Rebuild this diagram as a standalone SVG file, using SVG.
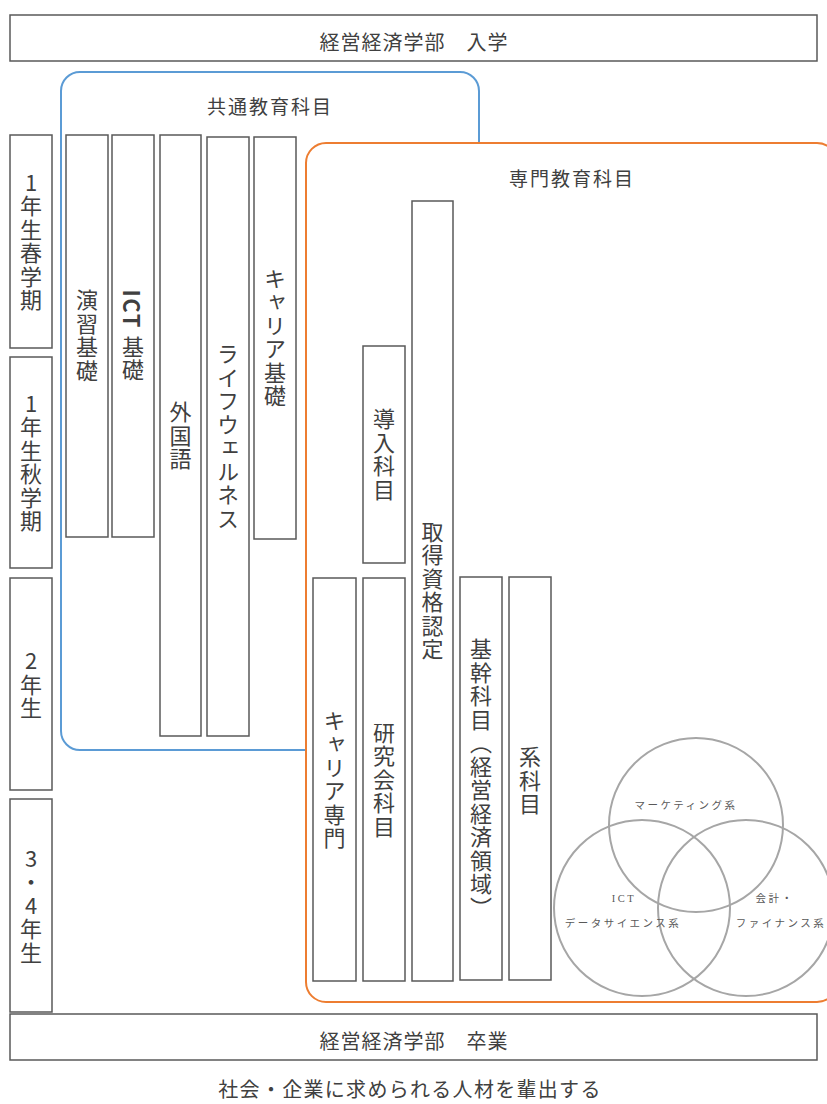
<svg xmlns="http://www.w3.org/2000/svg" width="827" height="1104" viewBox="0 0 827 1104">
<style>
.box{fill:#fff;stroke:#595959;stroke-width:1.5}
.t{font-family:"Noto Sans CJK JP","Noto Sans",sans-serif;fill:#404040}
.h{font-size:20px;letter-spacing:1px;text-anchor:middle;dominant-baseline:central}
.g{font-size:19px;letter-spacing:2px;text-anchor:middle;dominant-baseline:central}
.v{font-size:22px;letter-spacing:1.5px;writing-mode:vertical-rl;text-anchor:middle}
.up{text-orientation:upright}
.c{fill:none;stroke:#a6a6a6;stroke-width:2}
.s{font-family:"Liberation Serif","Noto Sans CJK JP",serif;font-size:10.5px;letter-spacing:2.5px;fill:#595959;text-anchor:middle;dominant-baseline:central}
</style>
<rect width="827" height="1104" fill="#fff"/>
<g id="entry"><rect class="box" x="10" y="15" width="807" height="46"/><text class="t h" x="414" y="41">経営経済学部　入学</text></g>
<g id="common"><rect x="61" y="72" width="418" height="678" rx="19" fill="#fff" stroke="#5b9bd5" stroke-width="2"/><text class="t g" x="270" y="105">共通教育科目</text></g>
<g id="senmon"><rect x="306" y="143" width="531" height="859" rx="20" fill="#fff" stroke="#ed7d31" stroke-width="2"/><text class="t g" x="572" y="177">専門教育科目</text></g>
<g id="term1"><rect class="box" x="10" y="135" width="42" height="213"/><text class="t v up" x="31" y="242">1年生春学期</text></g>
<g id="term2"><rect class="box" x="10" y="357" width="42" height="211"/><text class="t v up" x="31" y="463">1年生秋学期</text></g>
<g id="term3"><rect class="box" x="10" y="578" width="42" height="212"/><text class="t v up" x="31" y="685">2年生</text></g>
<g id="term4"><rect class="box" x="10" y="799" width="42" height="213"/><text class="t v up" x="31" y="906">3・4年生</text></g>
<g id="enshu"><rect class="box" x="66" y="135" width="42" height="402"/><text class="t v" x="87" y="336">演習基礎</text></g>
<g id="ict"><rect class="box" x="112" y="135" width="42" height="402"/><text class="t v" x="133" y="336"><tspan font-weight="bold">ICT</tspan> 基礎</text></g>
<g id="gaikokugo"><rect class="box" x="160" y="135" width="41" height="601"/><text class="t v" x="180.5" y="436">外国語</text></g>
<g id="life"><rect class="box" x="207" y="137" width="42" height="599"/><text class="t v" x="228" y="437">ライフウェルネス</text></g>
<g id="career1"><rect class="box" x="254" y="137" width="42" height="402"/><text class="t v" x="275" y="338">キャリア基礎</text></g>
<g id="donyu"><rect class="box" x="363" y="346" width="42" height="217"/><text class="t v" x="384" y="455">導入科目</text></g>
<g id="shikaku"><rect class="box" x="412" y="201" width="41" height="780"/><text class="t v" x="432.5" y="591">取得資格認定</text></g>
<g id="career2"><rect class="box" x="313" y="578" width="43" height="403"/><text class="t v" x="334.5" y="780">キャリア専門</text></g>
<g id="kenkyu"><rect class="box" x="363" y="578" width="42" height="403"/><text class="t v" x="384" y="780">研究会科目</text></g>
<g id="kikan"><rect class="box" x="460" y="577" width="42" height="403"/><text class="t v" x="481" y="779">基幹科目（経営経済領域）</text></g>
<g id="kei"><rect class="box" x="509" y="577" width="42" height="403"/><text class="t v" x="530" y="781">系科目</text></g>
<g id="venn">
<circle class="c" cx="696" cy="825" r="87"/>
<circle class="c" cx="642" cy="908" r="88"/>
<circle class="c" cx="746" cy="908" r="88"/>
<text class="s" x="686" y="805">マーケティング系</text>
<text class="s" x="624" y="898">ICT</text>
<text class="s" x="623" y="923">データサイエンス系</text>
<text class="s" x="775" y="898">会計・</text>
<text class="s" x="781" y="923">ファイナンス系</text>
</g>
<g id="graduate"><rect class="box" x="10" y="1014" width="807" height="46"/><text class="t h" x="414" y="1040">経営経済学部　卒業</text></g>
<g id="tagline"><text class="t" x="410" y="1088" font-size="20" letter-spacing="1.3" text-anchor="middle" dominant-baseline="central">社会・企業に求められる人材を輩出する</text></g>
<g id="connectors"/>
</svg>
